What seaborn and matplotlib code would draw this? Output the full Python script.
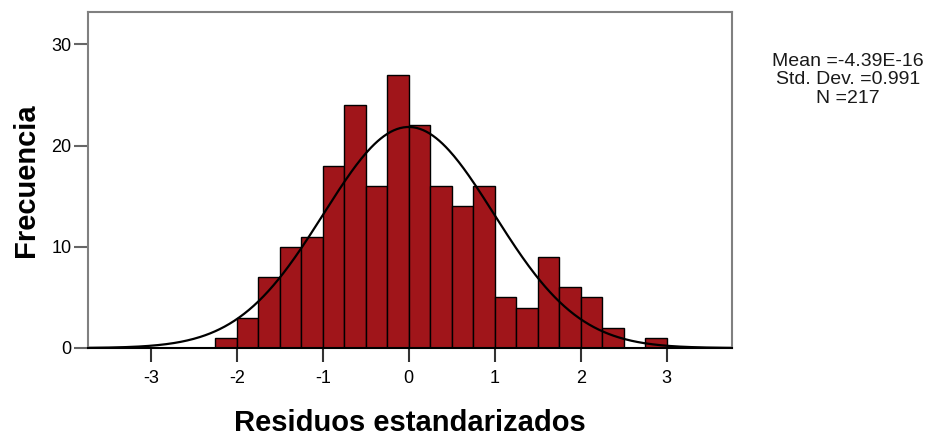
import numpy as np
import pandas as pd
import matplotlib
matplotlib.use("Agg")
import matplotlib.pyplot as plt
import seaborn as sns

# Histogram of standardized residuals (bin width 0.25)
bin_left = [-2.25, -2.0, -1.75, -1.5, -1.25, -1.0, -0.75, -0.5, -0.25, 0.0,
            0.25, 0.5, 0.75, 1.0, 1.25, 1.5, 1.75, 2.0, 2.25, 2.5, 2.75]
counts = [1, 3, 7, 10, 11, 18, 24, 16, 27, 22,
          16, 14, 16, 5, 4, 9, 6, 5, 2, 0, 1]
bin_width = 0.25

mean_val = -4.39e-16
std_val = 0.991
n_obs = 217

x_ticks = [-3, -2, -1, 0, 1, 2, 3]
y_ticks = [0, 10, 20, 30]

df = pd.DataFrame({"centro": np.array(bin_left) + bin_width / 2, "n": counts})
edges = list(bin_left) + [bin_left[-1] + bin_width]

sns.set_style("white")
plt.rcParams["font.family"] = ["Liberation Sans", "DejaVu Sans"]
plt.rcParams["text.color"] = "black"
plt.rcParams["axes.labelcolor"] = "black"
plt.rcParams["xtick.labelcolor"] = "black"
plt.rcParams["ytick.labelcolor"] = "black"

fig = plt.figure(figsize=(9.32, 4.38), dpi=100)
ax = fig.add_axes([88 / 932, 90 / 438, 644 / 932, 336 / 438])

sns.histplot(data=df, x="centro", weights="n", bins=edges, ax=ax,
             color="#a0151a", edgecolor="black", linewidth=1.0, alpha=1.0)

# fitted normal curve
xs = np.linspace(-3.75, 3.8, 400)
ys = n_obs * bin_width * np.exp(-0.5 * ((xs - mean_val) / std_val) ** 2) / (std_val * np.sqrt(2 * np.pi))
sns.lineplot(x=xs, y=ys, ax=ax, color="black", linewidth=1.6)

ax.set_xlim(-3.73, 3.76)
ax.set_ylim(0, 33.2)
ax.set_xticks(x_ticks)
ax.set_xticklabels([str(t) for t in x_ticks])
ax.set_yticks(y_ticks)

for s in ["top", "right", "left"]:
    ax.spines[s].set_color("#808080")
    ax.spines[s].set_linewidth(1.5)
ax.spines["bottom"].set_color("black")
ax.spines["bottom"].set_linewidth(1.5)

ax.tick_params(axis="x", direction="out", length=10, width=1.5, color="#333333",
               labelsize=13, pad=6, bottom=True)
ax.tick_params(axis="y", direction="out", length=10, width=1.5, color="#666666",
               labelsize=13, pad=2, left=True)

ax.set_xlabel("Residuos estandarizados", fontsize=21, fontweight="bold", labelpad=16)
ax.set_ylabel("Frecuencia", fontsize=21, fontweight="bold", labelpad=8)

fig.text(848 / 932, 1 - 80 / 438,
         "Mean =-4.39E-16\nStd. Dev. =0.991\nN =217",
         ha="center", va="center", fontsize=14, linespacing=1.12, color="#1a1a1a")

fig.savefig("out.png", dpi=100)
